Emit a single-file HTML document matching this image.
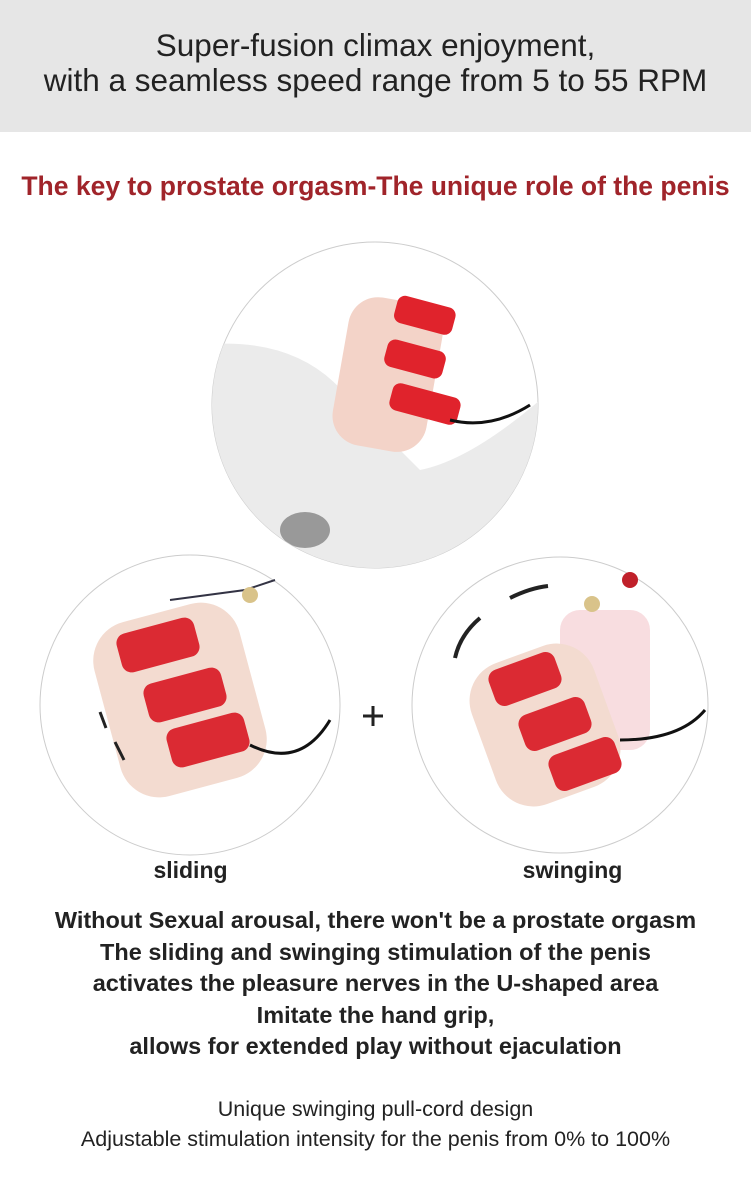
<!DOCTYPE html>
<html><head><meta charset="utf-8"><style>
body{margin:0;width:751px;height:1188px;background:#fff;font-family:"Liberation Sans",sans-serif;position:relative;overflow:hidden}
.hd{position:absolute;left:0;top:0;width:751px;height:132px;background:#e6e6e6}
.t{position:absolute;left:0;width:751px;text-align:center;white-space:nowrap}
</style></head><body>
<div class="hd"></div>
<div class="t" style="top:28px;font-size:31.5px;color:#222;line-height:35px">Super-fusion climax enjoyment,<br>with a seamless speed range from 5 to 55 RPM</div>
<div class="t" style="top:171px;font-size:26.5px;font-weight:bold;color:#a0242a">The key to prostate orgasm-The unique role of the penis</div>
<svg style="position:absolute;left:0;top:0" width="751" height="1188">
<defs><clipPath id="c1"><circle cx="375" cy="405" r="163"/></clipPath></defs>
<circle cx="375" cy="405" r="163" fill="#fff" stroke="#ccc"/>
<g clip-path="url(#c1)">
<path d="M200 345 Q300 335 350 400 L420 470 Q470 460 540 400 L540 600 L200 600Z" fill="#ebebeb"/>
<ellipse cx="305" cy="530" rx="25" ry="18" fill="#999"/>
<rect x="340" y="300" width="95" height="150" rx="30" fill="#f3d3c8" transform="rotate(10 390 375)"/>
<rect x="395" y="300" width="60" height="28" rx="8" fill="#e0232c" transform="rotate(15 420 314)"/>
<rect x="385" y="345" width="60" height="28" rx="8" fill="#e0232c" transform="rotate(15 415 359)"/>
<rect x="390" y="390" width="70" height="28" rx="8" fill="#e0232c" transform="rotate(15 425 404)"/>
<path d="M450 420 Q490 430 530 405" stroke="#111" stroke-width="3" fill="none"/>
</g>
<circle cx="190" cy="705" r="150" fill="#fff" stroke="#ccc"/>
<rect x="105" y="610" width="150" height="180" rx="40" fill="#f3dbd0" transform="rotate(-15 180 700)"/>
<rect x="118" y="625" width="80" height="40" rx="10" fill="#db2a33" transform="rotate(-15 158 645)"/>
<rect x="145" y="675" width="80" height="40" rx="10" fill="#db2a33" transform="rotate(-15 185 695)"/>
<rect x="168" y="720" width="80" height="40" rx="10" fill="#db2a33" transform="rotate(-15 208 740)"/>
<path d="M170 600 L245 590 L275 580" stroke="#334" stroke-width="2" fill="none"/>
<circle cx="250" cy="595" r="8" fill="#d9c38a"/>
<path d="M250 745 Q300 770 330 720" stroke="#111" stroke-width="3" fill="none"/>
<path d="M100 712 L106 728 M115 742 L124 760" stroke="#222" stroke-width="3"/>
<circle cx="560" cy="705" r="148" fill="#fff" stroke="#ccc"/>
<rect x="560" y="610" width="90" height="140" rx="20" fill="#f6d5d8" opacity=".8"/>
<rect x="480" y="650" width="130" height="150" rx="40" fill="#f3dbd0" transform="rotate(-20 545 725)"/>
<rect x="490" y="660" width="70" height="38" rx="10" fill="#db2a33" transform="rotate(-20 525 679)"/>
<rect x="520" y="705" width="70" height="38" rx="10" fill="#db2a33" transform="rotate(-20 555 724)"/>
<rect x="550" y="745" width="70" height="38" rx="10" fill="#db2a33" transform="rotate(-20 585 764)"/>
<circle cx="592" cy="604" r="8" fill="#d9c38a"/><circle cx="630" cy="580" r="8" fill="#c0202a"/>
<path d="M510 598 Q530 588 548 586" stroke="#222" stroke-width="4" fill="none"/>
<path d="M480 618 Q460 635 455 658" stroke="#222" stroke-width="4" fill="none"/>
<path d="M620 740 Q680 740 705 710" stroke="#111" stroke-width="3" fill="none"/>
<path d="M363 716 H383 M373 706 V726" stroke="#222" stroke-width="3"/>
</svg>
<div class="t" style="top:857px;left:-185px;font-size:23px;font-weight:bold;color:#222">sliding</div>
<div class="t" style="top:857px;left:197px;font-size:23px;font-weight:bold;color:#222">swinging</div>
<div class="t" style="top:905px;font-size:23.5px;font-weight:bold;color:#222;line-height:31.5px">Without Sexual arousal, there won't be a prostate orgasm<br>The sliding and swinging stimulation of the penis<br>activates the pleasure nerves in the U-shaped area<br>Imitate the hand grip,<br>allows for extended play without ejaculation</div>
<div class="t" style="top:1094px;font-size:21.5px;color:#222;line-height:30px">Unique swinging pull-cord design<br>Adjustable stimulation intensity for the penis from 0% to 100%</div>
</body></html>
